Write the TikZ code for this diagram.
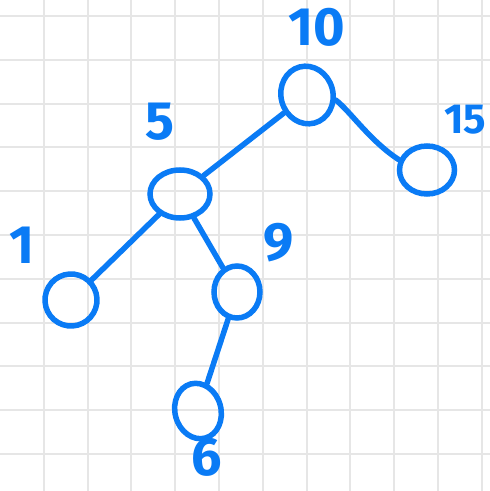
\documentclass[tikz,border=0pt]{standalone}
\usepackage{fontspec}
\setsansfont{Fira Sans}
\usetikzlibrary{shapes.geometric,positioning}
\definecolor{pen}{HTML}{0A7BF5}
\definecolor{paper}{HTML}{E6E6E6}

\begin{document}
\begin{tikzpicture}[x=1pt,y=1pt,
  v/.style={draw=pen,ellipse,line width=5.5pt,inner sep=0pt},
  lab/.style={text=pen,font=\sffamily\bfseries\fontsize{54}{54}\selectfont,inner sep=0pt},
  e/.style={draw=pen,line width=5.5pt,line cap=round}]
\useasboundingbox[fill=white] (0,0) rectangle (490,491);
% grid paper
\foreach \k in {1,...,11} \draw[paper,line width=2pt] (43.8*\k,0) -- (43.8*\k,491);
\foreach \k in {0,...,10} \draw[paper,line width=2pt] (0,475-43.8*\k) -- (490,475-43.8*\k);
% keys
\node[v,minimum width=52,minimum height=58,rotate=15] (n10) at (307,396) {};
\node[v,minimum width=55,minimum height=48] (n15) at (427,321) {};
\node[v,minimum width=60,minimum height=48] (n5) at (180,297) {};
\node[v,minimum width=52,minimum height=52,rotate=-30] (n1) at (71,191) {};
\node[v,minimum width=46,minimum height=52] (n9) at (237,199) {};
\node[v,minimum width=46,minimum height=56,rotate=15] (n6) at (198,80) {};
% labels
\node[lab] (l10) at (317,464) {10};
\node[lab,font=\sffamily\bfseries\fontsize{42}{42}\selectfont] (l15) at (465,371) {15};
\node[lab] (l5) at (160,369) {5};
\node[lab] (l1) at (22,246) {1};
\node[lab] (l9) at (279,248) {9};
\node[lab] (l6) at (207,34) {6};
% edges
\draw[e] (n10) -- (n5);
\draw[e] (n10.-25) .. controls (350,380) and (370,350) .. (n15.160);
\draw[e] (n5) -- (n1);
\draw[e] (n5) -- (n9);
\draw[e] (n9) -- (n6);
\end{tikzpicture}
\end{document}
